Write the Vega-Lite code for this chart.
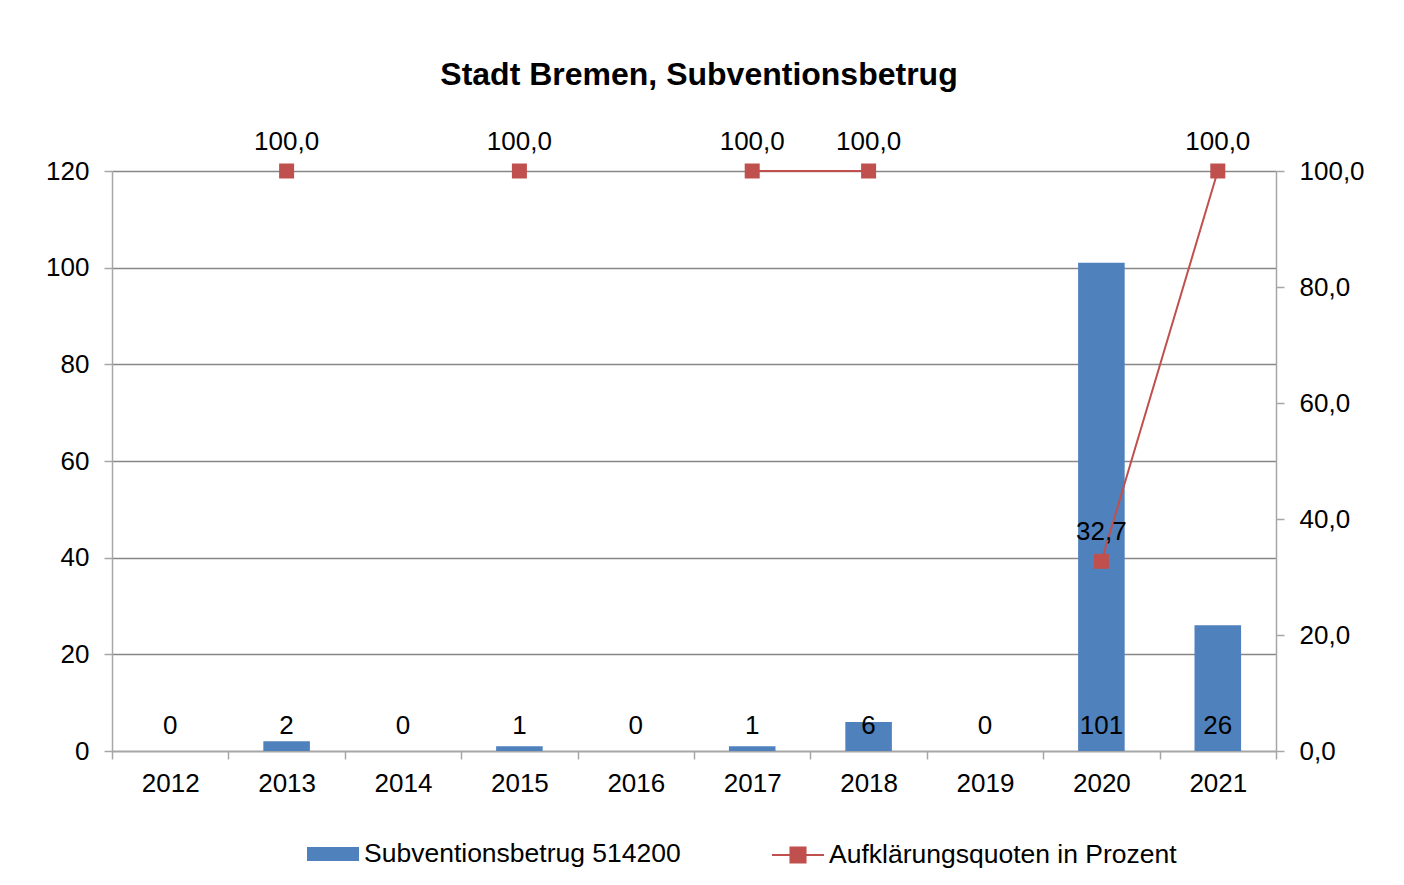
{
  "$schema": "https://vega.github.io/schema/vega-lite/v6.json",
  "width": 1164,
  "height": 580,
  "autosize": {"type": "none"},
  "padding": {"left": 112, "top": 171, "right": 128, "bottom": 134},
  "background": "white",
  "config": {
    "font": "Liberation Sans",
    "view": {"stroke": null},
    "locale": {"number": {"decimal": ",", "thousands": ".", "grouping": [3], "currency": ["", " €"]}},
    "axis": {"labelFont": "Liberation Sans", "labelFontSize": 26, "labelColor": "#000000", "domainColor": "#A6A6A6", "tickColor": "#A6A6A6", "domainWidth": 1.5, "tickWidth": 1.5, "tickSize": 8, "title": null}
  },
  "title": {"text": "Stadt Bremen, Subventionsbetrug", "fontSize": 32, "fontWeight": "bold", "font": "Liberation Sans", "color": "#000000", "anchor": "middle", "offset": 37, "dx": 5},
  "data": {
    "values": [
      {"jahr": "2012", "betrag": 0, "quote": null},
      {"jahr": "2013", "betrag": 2, "quote": 100.0},
      {"jahr": "2014", "betrag": 0, "quote": null},
      {"jahr": "2015", "betrag": 1, "quote": 100.0},
      {"jahr": "2016", "betrag": 0, "quote": null},
      {"jahr": "2017", "betrag": 1, "quote": 100.0},
      {"jahr": "2018", "betrag": 6, "quote": 100.0},
      {"jahr": "2019", "betrag": 0, "quote": null},
      {"jahr": "2020", "betrag": 101, "quote": 32.7},
      {"jahr": "2021", "betrag": 26, "quote": 100.0}
    ]
  },
  "encoding": {
    "x": {"field": "jahr", "type": "nominal", "sort": null,
      "scale": {"paddingInner": 0, "paddingOuter": 0},
      "axis": {"labelAngle": 0, "tickBand": "extent", "labelPadding": 11, "grid": false, "domainColor": "#A6A6A6"}}
  },
  "layer": [
    {
      "encoding": {},
      "layer": [
        {
          "mark": {"type": "bar", "width": {"band": 0.4}},
          "encoding": {
            "y": {"field": "betrag", "type": "quantitative",
              "scale": {"domain": [0, 120], "nice": false},
              "axis": {"values": [0, 20, 40, 60, 80, 100, 120], "grid": true, "gridColor": "#878787", "gridWidth": 1.5, "labelPadding": 15, "domain": true}},
            "color": {"datum": "Subventionsbetrug 514200", "type": "nominal",
              "scale": {"range": ["#4F81BD"]},
              "legend": {"orient": "none", "legendX": 195, "legendY": 657, "padding": 0, "title": null,
                "symbolType": "M-1,-0.27H1V0.27H-1Z", "symbolSize": 2704, "symbolStrokeWidth": 0,
                "labelFontSize": 26.5, "labelFont": "Liberation Sans", "labelColor": "#000000", "labelOffset": 5, "labelLimit": 600}}
          }
        },
        {
          "mark": {"type": "text", "baseline": "alphabetic", "dy": -17, "fontSize": 26, "font": "Liberation Sans", "color": "#000000"},
          "encoding": {
            "y": {"datum": 0, "type": "quantitative"},
            "text": {"field": "betrag", "type": "quantitative"}
          }
        }
      ]
    },
    {
      "encoding": {},
      "layer": [
        {
          "mark": {"type": "line", "strokeWidth": 2, "invalid": "break-paths-filter-domains"},
          "encoding": {
            "y": {"field": "quote", "type": "quantitative",
              "scale": {"domain": [0, 100], "nice": false},
              "axis": {"orient": "right", "values": [0, 20, 40, 60, 80, 100], "format": ".1f", "grid": false, "labelPadding": 15}},
            "stroke": {"datum": "Aufklärungsquoten in Prozent", "type": "nominal",
              "scale": {"range": ["#C0504D"]},
              "legend": {"orient": "none", "legendX": 659, "legendY": 657, "padding": 0, "title": null,
                "symbolType": "M-1,0H1M-0.29,-0.29H0.29V0.29H-0.29Z", "symbolSize": 2704, "symbolStrokeWidth": 2,
                "symbolFillColor": "#C0504D",
                "labelFontSize": 26.5, "labelFont": "Liberation Sans", "labelColor": "#000000", "labelOffset": 4, "labelLimit": 600,
                "encode": {"symbols": {"update": {"fill": {"value": "#C0504D"}, "strokeWidth": {"value": 2}}}}}}
          }
        },
        {
          "mark": {"type": "point", "shape": "square", "filled": true, "size": 225, "color": "#C0504D", "opacity": 1},
          "encoding": {
            "y": {"field": "quote", "type": "quantitative"}
          }
        },
        {
          "mark": {"type": "text", "baseline": "alphabetic", "dy": -21, "fontSize": 26, "font": "Liberation Sans", "color": "#000000"},
          "encoding": {
            "y": {"field": "quote", "type": "quantitative"},
            "text": {"field": "quote", "type": "quantitative", "format": ".1f"}
          }
        }
      ]
    }
  ],
  "resolve": {"scale": {"y": "independent"}}
}
